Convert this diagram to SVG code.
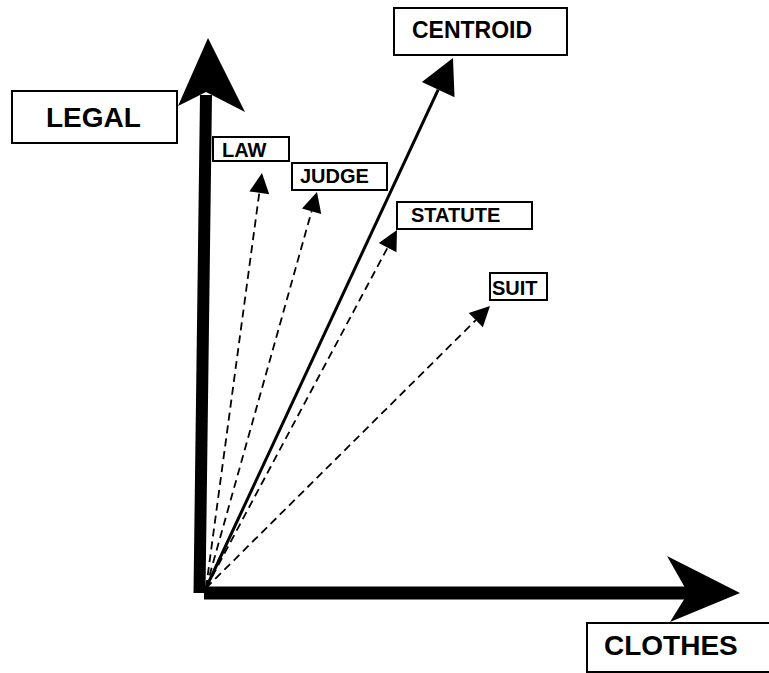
<svg xmlns="http://www.w3.org/2000/svg" width="769" height="673" viewBox="0 0 769 673">
<defs>
<style>
.box{fill:#fff;stroke:#000;stroke-width:2}
.lbl{font-family:"Liberation Sans",Arial,sans-serif;font-weight:bold;fill:#000}
.big{font-size:28px}
.sm{font-size:20px}
.dash{stroke:#000;stroke-width:1.8;stroke-dasharray:8 5;fill:none}
.solid{stroke:#000;stroke-width:3;fill:none}
</style>
<marker id="ah" markerUnits="userSpaceOnUse" markerWidth="20" markerHeight="20" viewBox="0 -10 20 20" refX="0" refY="0" orient="auto" overflow="visible">
<path d="M0,-10 L20,0 L0,10 z" fill="#000"/>
</marker>
<marker id="ahBig" markerUnits="userSpaceOnUse" markerWidth="36" markerHeight="36" viewBox="0 -18 35 36" refX="0" refY="0" orient="auto" overflow="visible">
<path d="M0,-18 L35,0 L0,18 z" fill="#000"/>
</marker>
</defs>
<rect width="769" height="673" fill="#fff"/>
<g id="connectors">
<line class="dash" x1="206" y1="588" x2="259.3" y2="192.8" marker-end="url(#ah)"/>
<line class="dash" x1="206" y1="588" x2="311.6" y2="211.3" marker-end="url(#ah)"/>
<line class="dash" x1="206" y1="588" x2="387.6" y2="247.6" marker-end="url(#ah)"/>
<line class="dash" x1="206" y1="588" x2="475.8" y2="320.1" marker-end="url(#ah)"/>
<line class="solid" x1="206" y1="588" x2="438.2" y2="89.7" marker-end="url(#ahBig)"/>
</g>
<g id="axis-legal">
<line x1="199.5" y1="593" x2="206" y2="95" stroke="#000" stroke-width="12"/>
<polygon points="208,38 178,106 206,92 245,112" fill="#000"/>
</g>
<g id="axis-clothes">
<line x1="204" y1="593" x2="690" y2="593" stroke="#000" stroke-width="13"/>
<polygon points="740,593 667,556 688,593 670,622" fill="#000"/>
</g>
<g id="node-legal">
<rect class="box" x="12" y="91" width="165" height="52"/>
<text class="lbl big" x="46" y="127">LEGAL</text>
</g>
<g id="node-clothes">
<rect class="box" x="587" y="623" width="200" height="49"/>
<text class="lbl big" x="604" y="655">CLOTHES</text>
</g>
<g id="node-centroid">
<rect class="box" x="394" y="8" width="173" height="47"/>
<text class="lbl" style="font-size:23px" x="412" y="38">CENTROID</text>
</g>
<g id="node-law">
<rect class="box" x="213" y="137" width="76" height="24"/>
<text class="lbl sm" x="222" y="157">LAW</text>
</g>
<g id="node-judge">
<rect class="box" x="292" y="163" width="95" height="27"/>
<text class="lbl sm" x="300" y="183">JUDGE</text>
</g>
<g id="node-statute">
<rect class="box" x="397" y="202" width="135" height="27"/>
<text class="lbl sm" x="411" y="222">STATUTE</text>
</g>
<g id="node-suit">
<rect class="box" x="490" y="273" width="57" height="27"/>
<text class="lbl sm" x="492" y="295">SUIT</text>
</g>
</svg>
